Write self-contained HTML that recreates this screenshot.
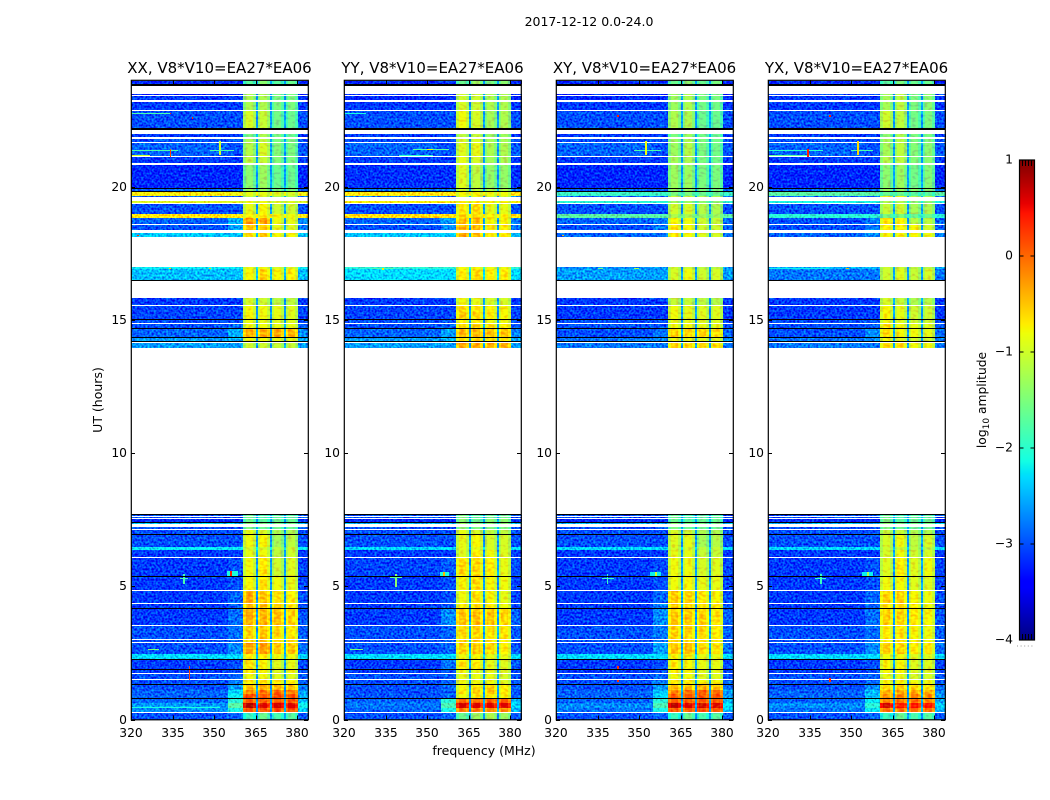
<!DOCTYPE html>
<html lang="en">
<head>
<meta charset="utf-8">
<title>2017-12-12 0.0-24.0</title>
<style>
  html, body { margin: 0; padding: 0; background: #fff; }
  svg { display: block; }
  text { font-family: "DejaVu Sans", "Liberation Sans", sans-serif; fill: #000; }
</style>
</head>
<body>
<svg id="figure" xmlns="http://www.w3.org/2000/svg" width="1050" height="800" viewBox="0 0 1050 800">
  <defs>
    <filter id="speckle" filterUnits="userSpaceOnUse" x="0" y="0" width="1050" height="800" color-interpolation-filters="sRGB">
      <feTurbulence type="fractalNoise" baseFrequency="0.48" numOctaves="1" seed="7" result="turb"/>
      <feColorMatrix in="turb" type="matrix" values="0 0 0 0 0.5  2.2 0 0 0 -0.6  0.9 0 0 0 0.1  0 0 0 0 1" result="noise"/>
      <feComposite in="SourceGraphic" in2="noise" operator="arithmetic" k1="0" k2="1" k3="0.6" k4="-0.3" result="mixed"/>
      <feComposite in="mixed" in2="SourceAlpha" operator="in"/>
    </filter>
    <filter id="band-texture" filterUnits="userSpaceOnUse" x="0" y="0" width="1050" height="800" color-interpolation-filters="sRGB">
      <feTurbulence type="fractalNoise" baseFrequency="0.25 0.4" numOctaves="1" seed="3" result="turb"/>
      <feColorMatrix in="turb" type="matrix" values="0 0 0 0 0.5  2.2 0 0 0 -0.6  0 0 0 0 0.5  0 0 0 0 1" result="noise"/>
      <feComposite in="SourceGraphic" in2="noise" operator="arithmetic" k1="0" k2="1" k3="0.35" k4="-0.175" result="mixed"/>
      <feComposite in="mixed" in2="SourceAlpha" operator="in"/>
    </filter>
  </defs>
  <text x="589" y="26" font-size="12.5" text-anchor="middle">2017-12-12 0.0-24.0</text>
  <g id="panels"></g>
  <text x="484" y="755" font-size="12.5" text-anchor="middle">frequency (MHz)</text>
  <text transform="translate(102,400) rotate(-90)" font-size="12.5" text-anchor="middle">UT (hours)</text>
  <g id="colorbar"></g>
  <text transform="translate(986,400) rotate(-90)" font-size="12.3" text-anchor="middle">log<tspan font-size="9" dy="3">10</tspan><tspan dy="-3"> amplitude</tspan></text>
</svg>
<script>
// ---- data: hours, frequencies, log10 amplitudes ----
const panelNames = ["XX", "YY", "XY", "YX"];
const baselineLabel = "V8*V10=EA27*EA06";
const freqTicks = [320, 335, 350, 365, 380];
const hourTicks = [0, 5, 10, 15, 20];
const colorTicks = [1, 0, -1, -2, -3, -4];
const gapLevel = -2.6;
const bandEdgeRolloff = 0.25;

// frequency channel edges (MHz)
const freqEdges = [320, 355, 360.4, 365, 365.7, 370, 370.7, 375, 375.7, 380.1, 384];

// unflagged time ranges (UT hours): start, end
const rowHours = [
 [23.98,23.85],[23.49,23.45],[23.41,23.25],[23.19,22.89],[22.85,22.19],[21.97,21.85],[21.80,21.67],[21.62,21.15],
 [21.10,20.87],[20.81,19.96],[19.94,19.81],[19.80,19.66],[19.66,19.61],[19.46,19.38],[19.33,18.97],[18.97,18.83],
 [18.83,18.61],[18.56,18.37],[18.27,18.12],[16.97,16.91],[16.91,16.49],[15.82,15.56],[15.51,15.02],[14.99,14.88],
 [14.83,14.69],[14.66,14.34],[14.30,14.20],[14.13,13.95],[7.69,7.65],[7.61,7.57],[7.54,7.42],[7.37,7.33],
 [7.21,7.16],[7.11,6.96],[6.93,6.48],[6.48,6.36],[6.36,6.10],[6.06,5.38],[5.35,4.86],[4.82,4.36],
 [4.32,4.20],[4.16,3.55],[3.51,3.01],[2.97,2.92],[2.88,2.46],[2.46,2.28],[2.23,1.88],[1.86,1.74],
 [1.71,1.51],[1.47,1.33],[1.29,1.11],[1.11,0.96],[0.96,0.80],[0.76,0.63],[0.63,0.43],[0.43,0.28],[0.23,0]
];

// black (zero-amplitude) time slots: start, end
const blackHours = [
 [23.85,23.78],[22.19,22.13],[19.96,19.93],[19.82,19.80],[16.49,16.46],[15.02,14.99],[14.69,14.66],[14.34,14.30],
 [14.22,14.20],[7.72,7.69],[7.42,7.40],[6.96,6.93],[5.38,5.35],[4.20,4.16],[2.28,2.23],[1.88,1.86],[1.33,1.30],[0.80,0.76]
];

// per row: [background, near-band, band1, band2, band3, band4]
const xxValues = [
 [-3.2,-3.2,-1.7,-1.4,-1.7,-1.6],[-3.3,-3.3,-1.2,-1.2,-1.5,-1.5],[-3.1,-3.1,-1.2,-1.2,-1.5,-1.5],[-3.1,-3.1,-1.2,-1.2,-1.5,-1.5],
 [-3.0,-3.0,-0.95,-1.05,-1.55,-1.6],[-3.1,-3.1,-1.5,-1.2,-1.5,-1.6],[-3.0,-3.0,-1.2,-1.1,-1.5,-1.5],[-2.9,-3.0,-1.15,-0.95,-1.45,-1.5],
 [-3.1,-3.1,-1.1,-1.05,-1.45,-1.5],[-3.2,-3.2,-1.4,-1.3,-1.6,-1.6],[-2.9,-2.9,-1.3,-1.3,-1.5,-1.5],[-0.75,-0.8,-0.85,-0.85,-0.9,-0.95],
 [-2.9,-2.9,-1.1,-1.0,-1.2,-1.2],[-0.9,-0.9,-0.8,-0.8,-0.9,-0.9],[-3.0,-3.0,-0.85,-0.75,-1.0,-1.0],[-0.7,-0.7,-0.7,-0.7,-0.75,-0.8],
 [-2.9,-2.5,-0.25,-0.3,-0.8,-0.85],[-3.0,-2.6,-0.45,-0.5,-0.85,-0.9],[-2.4,-2.4,-0.6,-0.55,-0.75,-0.75],[-2.2,-2.2,-0.8,-0.8,-0.9,-0.9],
 [-2.45,-2.45,-0.75,-0.55,-0.75,-0.7],[-3.1,-3.1,-0.95,-1.0,-1.1,-1.1],[-3.05,-3.05,-0.75,-0.8,-0.85,-0.9],[-3.0,-3.0,-0.8,-0.85,-0.9,-0.9],
 [-3.0,-2.9,-0.8,-0.8,-0.85,-0.85],[-2.9,-2.5,-0.35,-0.35,-0.35,-0.4],[-2.6,-2.5,-0.8,-0.8,-0.85,-0.85],[-2.6,-2.6,-1.0,-1.0,-1.05,-1.05],
 [-3.0,-3.0,-1.6,-1.8,-1.7,-1.7],[-3.0,-3.0,-1.6,-1.8,-1.7,-1.7],[-3.2,-3.2,-1.6,-1.7,-1.6,-1.6],[-2.4,-2.4,-1.4,-1.5,-1.5,-1.5],
 [-3.0,-3.0,-1.5,-1.6,-1.6,-1.6],[-3.0,-3.0,-0.85,-0.95,-1.2,-1.2],[-3.0,-3.0,-0.8,-0.75,-1.25,-1.1],[-2.2,-2.2,-0.95,-0.95,-1.1,-1.0],
 [-3.1,-3.1,-0.85,-0.8,-1.1,-1.0],[-3.1,-3.0,-0.8,-0.65,-1.0,-0.9],[-3.1,-3.0,-0.75,-0.65,-0.8,-0.85],[-3.1,-2.9,-0.35,-0.45,-0.65,-0.7],
 [-3.1,-2.9,-0.4,-0.5,-0.55,-0.65],[-3.1,-2.85,-0.35,-0.4,-0.45,-0.55],[-3.0,-2.85,-0.55,-0.5,-0.6,-0.65],[-3.0,-2.9,-0.55,-0.5,-0.6,-0.65],
 [-3.0,-2.7,-0.3,-0.25,-0.5,-0.5],[-2.3,-2.3,-0.7,-0.7,-0.8,-0.8],[-3.1,-3.0,-0.65,-0.75,-0.9,-0.85],[-3.1,-3.0,-0.6,-0.75,-0.9,-0.8],
 [-3.0,-2.9,-0.8,-0.8,-0.9,-0.9],[-3.0,-2.8,-0.65,-0.6,-0.7,-0.7],[-3.0,-2.6,-0.45,-0.4,-0.4,-0.45],[-2.9,-2.3,-0.15,0,0,-0.05],
 [-2.9,-2.2,0.2,0.15,0.2,0.15],[-2.9,-2.0,0.1,0.1,0.15,0.1],[-2.6,-1.7,0.8,0.6,0.65,0.6],[-2.7,-2.1,0.15,0.15,0.2,0.15],
 [-3.0,-2.9,-1.9,-1.6,-1.8,-1.7]
];
const yyValues = [
 [-3.2,-3.2,-1.6,-1.3,-1.5,-1.4],[-3.2,-3.2,-1.0,-1.0,-1.2,-1.2],[-3.2,-3.2,-1.0,-1.0,-1.2,-1.2],[-3.1,-3.1,-0.95,-1.0,-1.2,-1.2],
 [-3.0,-3.0,-0.8,-0.95,-1.25,-1.2],[-3.1,-3.1,-1.1,-1.05,-1.3,-1.3],[-3.0,-3.0,-0.95,-0.95,-1.25,-1.25],[-2.9,-3.0,-0.9,-0.85,-1.2,-1.2],
 [-3.1,-3.1,-0.85,-0.95,-1.25,-1.2],[-3.15,-3.15,-0.9,-1.1,-1.35,-1.35],[-2.8,-2.8,-1.0,-1.1,-1.2,-1.2],[-0.7,-0.7,-0.75,-0.75,-0.8,-0.8],
 [-2.8,-2.8,-0.9,-0.8,-1.0,-1.0],[-0.75,-0.75,-0.7,-0.7,-0.75,-0.75],[-3.0,-3.0,-0.65,-0.6,-0.85,-0.85],[-0.65,-0.65,-0.6,-0.6,-0.7,-0.7],
 [-2.9,-2.6,-0.45,-0.45,-0.75,-0.75],[-3.0,-2.7,-0.4,-0.4,-0.7,-0.7],[-2.4,-2.4,-0.35,-0.4,-0.6,-0.6],[-2.0,-2.0,-0.75,-0.75,-0.8,-0.8],
 [-2.3,-2.3,-0.7,-0.6,-0.7,-0.7],[-3.1,-3.1,-0.8,-0.85,-0.95,-0.95],[-3.05,-3.05,-0.55,-0.6,-0.7,-0.75],[-3.0,-3.0,-0.7,-0.7,-0.8,-0.8],
 [-3.0,-2.9,-0.55,-0.6,-0.65,-0.65],[-2.9,-2.6,-0.4,-0.4,-0.45,-0.45],[-2.6,-2.5,-0.6,-0.6,-0.65,-0.65],[-2.6,-2.6,-0.35,-0.35,-0.4,-0.4],
 [-3.0,-3.0,-1.5,-1.7,-1.6,-1.6],[-3.0,-3.0,-1.5,-1.7,-1.6,-1.6],[-3.2,-3.2,-1.4,-1.6,-1.4,-1.4],[-2.4,-2.4,-1.3,-1.4,-1.4,-1.4],
 [-3.0,-3.0,-1.4,-1.5,-1.5,-1.5],[-3.0,-3.0,-0.85,-0.95,-1.1,-1.1],[-3.0,-3.0,-0.85,-0.75,-0.95,-0.95],[-2.3,-2.3,-0.85,-0.85,-0.95,-0.95],
 [-3.1,-3.1,-0.9,-0.7,-0.8,-0.9],[-3.05,-2.95,-0.6,-0.6,-0.7,-0.85],[-3.1,-3.0,-0.75,-0.6,-0.75,-0.8],[-3.1,-3.0,-0.8,-0.65,-0.75,-0.85],
 [-3.1,-3.0,-0.7,-0.55,-0.7,-0.8],[-3.1,-2.7,-0.45,-0.45,-0.5,-0.55],[-3.0,-2.9,-0.6,-0.55,-0.65,-0.7],[-3.0,-2.9,-0.6,-0.55,-0.65,-0.7],
 [-3.0,-2.9,-0.55,-0.5,-0.6,-0.7],[-2.3,-2.3,-0.8,-0.75,-0.85,-0.85],[-3.1,-2.8,-0.65,-0.7,-0.85,-0.9],[-3.1,-3.0,-0.8,-0.85,-0.85,-0.9],
 [-3.0,-2.9,-0.85,-0.85,-0.85,-0.95],[-3.0,-2.9,-0.8,-0.8,-0.8,-0.9],[-3.0,-2.9,-0.75,-0.6,-0.55,-0.7],[-3.0,-2.9,-0.7,-0.55,-0.5,-0.65],
 [-3.0,-2.9,-0.8,-0.7,-0.65,-0.75],[-2.9,-2.0,0.1,0.1,0.15,0.1],[-2.8,-1.8,0.65,0.6,0.6,0.6],[-2.9,-2.1,-0.1,-0.1,-0.15,-0.2],
 [-3.0,-2.9,-1.6,-1.3,-1.2,-1.3]
];
const xyValues = [
 [-3.2,-3.2,-1.6,-1.4,-1.6,-1.5],[-3.2,-3.2,-1.3,-1.2,-1.5,-1.5],[-3.2,-3.2,-1.3,-1.2,-1.5,-1.5],[-3.1,-3.1,-1.3,-1.2,-1.55,-1.55],
 [-3.0,-3.0,-1.2,-1.2,-1.6,-1.6],[-3.1,-3.1,-1.5,-1.3,-1.55,-1.6],[-3.0,-3.0,-1.3,-1.2,-1.5,-1.55],[-2.9,-3.0,-1.3,-1.15,-1.5,-1.55],
 [-3.1,-3.1,-1.25,-1.2,-1.5,-1.55],[-3.2,-3.2,-1.3,-1.3,-1.5,-1.5],[-2.9,-2.9,-1.3,-1.3,-1.5,-1.5],[-1.9,-1.9,-1.5,-1.5,-1.6,-1.6],
 [-2.9,-2.9,-1.05,-1.05,-1.2,-1.2],[-2.0,-2.0,-1.3,-1.3,-1.4,-1.4],[-3.0,-3.0,-1.0,-0.95,-1.15,-1.2],[-1.7,-1.7,-1.2,-1.2,-1.3,-1.3],
 [-2.9,-2.8,-0.75,-0.8,-1.0,-1.05],[-3.0,-2.8,-0.65,-0.75,-1.0,-1.0],[-2.9,-2.8,-0.7,-0.75,-0.9,-0.95],[-2.7,-2.6,-1.0,-1.0,-1.1,-1.1],
 [-2.6,-2.6,-0.95,-0.8,-1.0,-0.95],[-3.1,-3.1,-1.05,-1.05,-1.1,-1.15],[-3.1,-3.1,-0.8,-0.85,-0.9,-0.9],[-3.0,-3.0,-0.85,-0.85,-0.9,-0.9],
 [-3.0,-3.0,-0.8,-0.8,-0.85,-0.85],[-3.0,-2.8,-0.55,-0.55,-0.55,-0.6],[-2.8,-2.7,-0.85,-0.85,-0.9,-0.9],[-2.8,-2.8,-0.55,-0.55,-0.6,-0.6],
 [-3.0,-3.0,-1.6,-1.8,-1.7,-1.7],[-3.0,-3.0,-1.6,-1.8,-1.7,-1.7],[-3.2,-3.2,-1.6,-1.7,-1.6,-1.6],[-2.5,-2.5,-1.4,-1.5,-1.5,-1.5],
 [-3.0,-3.0,-1.5,-1.6,-1.6,-1.6],[-3.0,-3.0,-0.95,-1.0,-1.2,-1.2],[-3.0,-3.0,-0.9,-0.85,-1.25,-1.15],[-2.3,-2.3,-0.95,-0.95,-1.1,-1.05],
 [-3.1,-3.1,-0.85,-0.85,-1.05,-1.05],[-3.1,-3.0,-0.8,-0.8,-0.95,-0.9],[-3.1,-3.0,-0.8,-0.75,-0.85,-0.85],[-3.1,-2.9,-0.5,-0.55,-0.65,-0.75],
 [-3.1,-2.8,-0.5,-0.55,-0.6,-0.7],[-3.1,-2.7,-0.5,-0.5,-0.55,-0.65],[-3.0,-2.8,-0.55,-0.55,-0.6,-0.7],[-3.0,-2.8,-0.55,-0.55,-0.6,-0.7],
 [-3.0,-2.6,-0.45,-0.45,-0.6,-0.65],[-2.3,-2.3,-0.75,-0.75,-0.85,-0.85],[-3.1,-3.0,-0.7,-0.75,-0.85,-0.85],[-3.1,-3.0,-0.7,-0.75,-0.9,-0.85],
 [-3.0,-2.9,-0.8,-0.8,-0.9,-0.9],[-3.0,-2.8,-0.7,-0.7,-0.75,-0.75],[-3.0,-2.6,-0.45,-0.4,-0.35,-0.4],[-2.9,-2.4,-0.1,0,0.05,0],
 [-2.9,-2.3,0.1,0.1,0.15,0.1],[-2.9,-2.0,0.1,0.1,0.15,0.1],[-2.7,-1.8,0.75,0.6,0.65,0.6],[-2.8,-2.1,0.1,0.1,0.15,0.1],
 [-3.0,-2.9,-1.9,-1.6,-1.8,-1.7]
];
const yxValues = [
 [-3.2,-3.2,-1.7,-1.5,-1.6,-1.6],[-3.1,-3.1,-1.25,-1.1,-1.5,-1.4],[-3.1,-3.1,-1.25,-1.1,-1.5,-1.4],[-3.1,-3.1,-1.25,-1.1,-1.5,-1.4],
 [-3.0,-3.0,-1.0,-1.1,-1.55,-1.5],[-3.1,-3.1,-1.4,-1.2,-1.5,-1.5],[-3.0,-3.0,-1.25,-1.15,-1.5,-1.45],[-2.9,-3.0,-1.25,-1.1,-1.45,-1.4],
 [-3.1,-3.1,-1.15,-1.1,-1.45,-1.4],[-3.2,-3.2,-1.4,-1.3,-1.55,-1.45],[-2.9,-2.9,-1.3,-1.3,-1.4,-1.4],[-1.7,-1.7,-1.6,-1.6,-1.7,-1.7],
 [-2.9,-2.9,-0.8,-0.85,-1.2,-1.2],[-2.1,-2.1,-1.2,-1.2,-1.4,-1.4],[-3.0,-3.0,-1.05,-1.0,-1.25,-1.2],[-2.0,-2.0,-1.5,-1.5,-1.6,-1.6],
 [-3.0,-2.8,-0.65,-0.7,-1.15,-1.1],[-3.0,-2.8,-0.7,-0.7,-0.75,-0.95],[-2.9,-2.7,-0.75,-0.75,-0.75,-0.8],[-2.5,-2.5,-1.0,-1.0,-1.1,-1.1],
 [-2.8,-2.8,-1.0,-0.9,-1.05,-0.95],[-3.1,-3.1,-0.95,-1.05,-1.2,-1.15],[-3.1,-3.1,-0.75,-0.85,-1.0,-1.0],[-3.0,-3.0,-0.8,-0.9,-1.0,-1.0],
 [-3.0,-2.9,-0.65,-0.8,-0.85,-0.9],[-3.0,-2.7,-0.6,-0.75,-0.8,-0.85],[-2.8,-2.7,-0.8,-0.9,-1.0,-1.0],[-2.8,-2.8,-0.6,-0.65,-0.8,-0.8],
 [-3.0,-3.0,-1.6,-1.8,-1.7,-1.7],[-3.0,-3.0,-1.6,-1.8,-1.7,-1.7],[-3.2,-3.2,-1.5,-1.7,-1.6,-1.6],[-2.4,-2.4,-1.4,-1.5,-1.5,-1.5],
 [-3.0,-3.0,-1.5,-1.6,-1.6,-1.6],[-3.0,-3.0,-1.05,-1.05,-1.2,-1.2],[-3.0,-3.0,-0.95,-0.8,-1.1,-0.95],[-2.3,-2.3,-1.0,-1.0,-1.1,-1.1],
 [-3.1,-3.1,-0.95,-0.8,-1.0,-0.95],[-3.1,-3.0,-0.9,-0.7,-0.9,-0.8],[-3.1,-3.0,-0.8,-0.75,-0.9,-0.9],[-3.1,-2.9,-0.55,-0.55,-0.75,-0.8],
 [-3.1,-2.9,-0.6,-0.55,-0.7,-0.8],[-3.1,-2.85,-0.55,-0.55,-0.65,-0.75],[-3.0,-2.85,-0.7,-0.65,-0.75,-0.8],[-3.0,-2.85,-0.7,-0.65,-0.75,-0.8],
 [-3.0,-2.7,-0.55,-0.55,-0.7,-0.7],[-2.3,-2.3,-0.8,-0.8,-0.9,-0.9],[-3.1,-3.0,-0.75,-0.75,-0.9,-0.9],[-3.1,-3.0,-0.75,-0.75,-0.9,-0.9],
 [-3.0,-2.9,-0.85,-0.85,-0.95,-0.95],[-3.0,-2.9,-0.75,-0.75,-0.8,-0.8],[-3.0,-2.7,-0.6,-0.55,-0.55,-0.6],[-2.9,-2.5,-0.35,-0.3,-0.3,-0.35],
 [-2.9,-2.4,-0.2,-0.15,-0.15,-0.2],[-2.9,-2.2,-0.1,-0.05,-0.05,-0.1],[-2.7,-2.0,0.65,0.45,0.45,0.45],[-2.8,-2.2,-0.05,-0.05,0,-0.05],
 [-3.0,-2.9,-1.9,-1.6,-1.8,-1.7]
];

// narrow-band features: [freq start, freq end, hour start, hour end, log10 amplitude]
const xxFeatures = [
 [338.7,339.3,5.45,5.1,-1.8],[337.5,340.5,5.3,5.26,-1.8],[354.5,358.5,5.56,5.4,-2.1],[355.8,356.3,5.56,5.4,0.4],
 [320,334,22.77,22.74,-1.8],[333.9,334.5,22.78,22.72,0.4],[341.9,342.4,22.62,22.54,0.3],[320,337,21.38,21.35,-1.8],
 [320,327,21.2,21.16,-1.0],[333.9,334.5,21.42,21.12,0.2],[351.8,352.3,21.7,21.2,-1.0],[348.5,357,21.38,21.35,-1.8],
 [320,352,0.46,0.43,-2.1],[326,330,2.64,2.61,-1.5],[340.8,341.2,2.0,1.5,0.2],[333.8,334.4,16.96,16.92,-0.6],
 [348,349,16.96,16.92,-0.5],[322,322.8,18.2,18.14,0.3]
];
const yyFeatures = [
 [338.5,339.1,5.46,4.96,-1.4],[336.5,341,5.33,5.3,-1.7],[354.5,358,5.55,5.36,-2.1],[355.7,356.3,5.55,5.36,-0.4],
 [322,327,2.64,2.61,-1.5],[345,358,21.41,21.38,-1.7],[350,352,21.41,21.38,-0.8],[330,338,16.95,16.9,-1.8],
 [333.7,334.5,16.96,16.88,-0.7],[320,328,22.77,22.74,-2.1],[340,352,21.2,21.17,-2.0]
];
const xyFeatures = [
 [338.3,338.9,5.45,5.1,-1.9],[336.5,341,5.31,5.27,-1.9],[354,358,5.55,5.38,-2.2],[355.7,356.3,5.55,5.4,-1.0],
 [348,358,21.38,21.35,-1.8],[352.1,352.7,21.7,21.2,-0.8],[342.1,342.7,22.68,22.6,0.4],[342.1,342.6,2.0,1.9,0.3],
 [342.1,342.6,1.5,1.4,0.3],[322,322.8,18.2,18.14,-0.4],[335,337,16.95,16.91,-1.6],[348,350,16.95,16.91,-1.2]
];
const yxFeatures = [
 [338.7,339.3,5.45,5.1,-1.9],[337,341,5.31,5.27,-1.9],[354,358,5.55,5.38,-2.2],[355.7,356.3,5.55,5.4,-1.2],
 [350,358,21.39,21.36,-1.8],[352.1,352.7,21.7,21.2,-0.6],[320,340,21.39,21.36,-2.0],[320,335,21.2,21.17,-1.7],
 [334.1,334.7,21.42,21.12,0.4],[342.1,342.6,22.68,22.6,0.4],[334.1,334.9,16.96,16.91,0.3],[348,349.2,16.96,16.91,-0.4],
 [342.1,342.6,1.55,1.42,0.3],[320,342,16.95,16.92,-2.2]
];
const valueTables = [xxValues, yyValues, xyValues, yxValues];
const featureTables = [xxFeatures, yyFeatures, xyFeatures, yxFeatures];

// ---- layout and scales ----
const SVG_NS = "http://www.w3.org/2000/svg";
const panelLefts = [131, 344, 556, 768];
const panelWidth = 177, plotTop = 80, plotBottom = 719.5;
const freqMin = 320, freqMax = 383.8, hourMin = 0, hourMax = 24;
const colorMin = -4, colorMax = 1;

function freqScale(panelIndex, f) {
  return panelLefts[panelIndex] + (f - freqMin) / (freqMax - freqMin) * panelWidth;
}
function hourScale(h) {
  return plotBottom - (h - hourMin) / (hourMax - hourMin) * (plotBottom - plotTop);
}
function clamp01(v) { return Math.max(0, Math.min(1, v)); }
function jet(value) {
  const t = clamp01((value - colorMin) / (colorMax - colorMin));
  let r, g, b;
  if (t < 0.35) r = 0; else if (t < 0.66) r = (t - 0.35) / 0.31; else if (t < 0.89) r = 1; else r = 1 - (t - 0.89) / 0.11 * 0.5;
  if (t < 0.125) g = 0; else if (t < 0.375) g = (t - 0.125) / 0.25; else if (t < 0.64) g = 1; else if (t < 0.91) g = 1 - (t - 0.64) / 0.27; else g = 0;
  if (t < 0.11) b = 0.5 + t / 0.11 * 0.5; else if (t < 0.34) b = 1; else if (t < 0.65) b = 1 - (t - 0.34) / 0.31; else b = 0;
  return "rgb(" + Math.round(r * 255) + "," + Math.round(g * 255) + "," + Math.round(b * 255) + ")";
}
function make(tag, attrs, parent) {
  const el = document.createElementNS(SVG_NS, tag);
  for (const k in attrs) el.setAttribute(k, attrs[k]);
  parent.appendChild(el);
  return el;
}
function snappedRect(x0, x1, y0, y1, fill, parent) {
  const left = Math.round(x0), top = Math.round(y0);
  return make("rect", { x: left, y: top, width: Math.max(Math.round(x1) - left, 1), height: Math.max(Math.round(y1) - top, 1), fill: fill }, parent);
}

// which value of a row each frequency column uses (-1 = gap between sub-bands, -2 = band-free right edge)
const columnSource = [0, 1, 2, -1, 3, -1, 4, -1, 5, -2];

const panelsGroup = document.getElementById("panels");
panelNames.forEach(function (name, p) {
  const left = panelLefts[p];
  const panel = make("g", {}, panelsGroup);
  
  

  const title = make("text", { x: left + panelWidth / 2, y: 73, "font-size": "15", "text-anchor": "middle" }, panel);
  title.textContent = name + ", " + baselineLabel;
  
  

  const noisy = make("g", { filter: "url(#speckle)", "shape-rendering": "crispEdges" }, panel);
  
  
  const clean = make("g", { filter: "url(#band-texture)", "shape-rendering": "crispEdges" }, panel);
  
  

  const values = valueTables[p];
  rowHours.forEach(function (hours, r) {
    const y0 = hourScale(hours[0]), y1 = hourScale(hours[1]);
    const row = values[r];
    columnSource.forEach(function (src, c) {
      const x0 = freqScale(p, freqEdges[c]), x1 = freqScale(p, freqEdges[c + 1]);
      let cell;
      if (src >= 2) {
        const edge = (x1 - x0) * 0.2;
        cell = snappedRect(x0, x0 + edge, y0, y1, jet(row[src] - bandEdgeRolloff), clean);
        
        
        cell = snappedRect(x1 - edge, x1, y0, y1, jet(row[src] - bandEdgeRolloff), clean);
        
        
        cell = snappedRect(x0 + edge, x1 - edge, y0, y1, jet(row[src]), clean);
      } else if (src === -1) {
        cell = snappedRect(x0, x1, y0, y1, jet(Math.max(row[0], gapLevel)), clean);
      } else if (src === -2) {
        cell = snappedRect(x0, x1, y0, y1, jet((row[0] + row[1]) / 2), noisy);
      } else {
        cell = snappedRect(x0, x1, y0, y1, jet(row[src]), noisy);
      }
      
      
    });
  });

  featureTables[p].forEach(function (ft) {
    const mark = snappedRect(freqScale(p, ft[0]), freqScale(p, ft[1]), hourScale(ft[2]), hourScale(ft[3]), jet(ft[4]), panel);
    mark.setAttribute("shape-rendering", "crispEdges");
    
    
  });

  blackHours.forEach(function (hours) {
    const line = snappedRect(left, left + panelWidth, hourScale(hours[0]), hourScale(hours[1]), "#000", panel);
    line.setAttribute("shape-rendering", "crispEdges");
    
    
  });

  freqTicks.forEach(function (f) {
    const x = Math.round(freqScale(p, f)) + 0.5;
    const tick = make("path", { d: "M" + x + " " + plotBottom + "v-4M" + x + " " + plotTop + "v4", stroke: "#000", "stroke-width": 1, fill: "none" }, panel);
    
    
    const label = make("text", { x: x - 0.5, y: 737, "font-size": "12.3", "text-anchor": "middle" }, panel);
    label.textContent = f;
    
    
  });
  hourTicks.forEach(function (h) {
    const y = Math.round(hourScale(h)) + 0.5;
    const tick = make("path", { d: "M" + left + " " + y + "h4M" + (left + panelWidth) + " " + y + "h-4", stroke: "#000", "stroke-width": 1, fill: "none" }, panel);
    
    
    const label = make("text", { x: left - 4, y: y + 3.5, "font-size": "12.3", "text-anchor": "end" }, panel);
    label.textContent = h;
    
    
  });

  const frame = make("rect", { x: left + 0.3, y: plotTop + 0.3, width: panelWidth, height: plotBottom - plotTop, fill: "none", stroke: "#000", "stroke-width": 1.2 }, panel);
  
  
});

// ---- colorbar ----
const cbGroup = document.getElementById("colorbar");
const cbLeft = 1019.5, cbWidth = 15, cbTop = 160, cbBottom = 640;
function colorbarY(v) {
  return cbBottom - (v - colorMin) / (colorMax - colorMin) * (cbBottom - cbTop);
}
for (let i = 0; i < 240; i++) {
  const v0 = colorMin + (colorMax - colorMin) * i / 240;
  const v1 = colorMin + (colorMax - colorMin) * (i + 1) / 240;
  const strip = make("rect", { x: cbLeft, y: colorbarY(v1), width: cbWidth, height: colorbarY(v0) - colorbarY(v1) + 0.5, fill: jet((v0 + v1) / 2), "shape-rendering": "crispEdges" }, cbGroup);
  
  
}
colorTicks.forEach(function (v) {
  const y = colorbarY(v);
  const tick = make("path", { d: "M" + cbLeft + " " + y + "h4M" + (cbLeft + cbWidth) + " " + y + "h-4", stroke: "#000", "stroke-width": 1, fill: "none" }, cbGroup);
  
  
  const label = make("text", { x: 1013, y: y + 3.5, "font-size": "12.3", "text-anchor": "end" }, cbGroup);
  label.textContent = v < 0 ? "\u2212" + Math.abs(v) : String(v);
  
  
});
[1022.5, 1025.5, 1028.5, 1031.5].forEach(function (x) {
  const minor = make("path", { d: "M" + x + " " + cbTop + "v6M" + x + " " + cbBottom + "v-6", stroke: "#000", "stroke-width": 1, fill: "none" }, cbGroup);
  
  
});
const cbFrame = make("rect", { x: cbLeft, y: cbTop, width: cbWidth, height: cbBottom - cbTop, fill: "none", stroke: "#000", "stroke-width": 1.2 }, cbGroup);


const cbDots = make("line", { x1: 1017, y1: 646, x2: 1035, y2: 646, stroke: "#999", "stroke-width": 1, "stroke-dasharray": "1 2.6" }, cbGroup);


</script>
</body>
</html>
